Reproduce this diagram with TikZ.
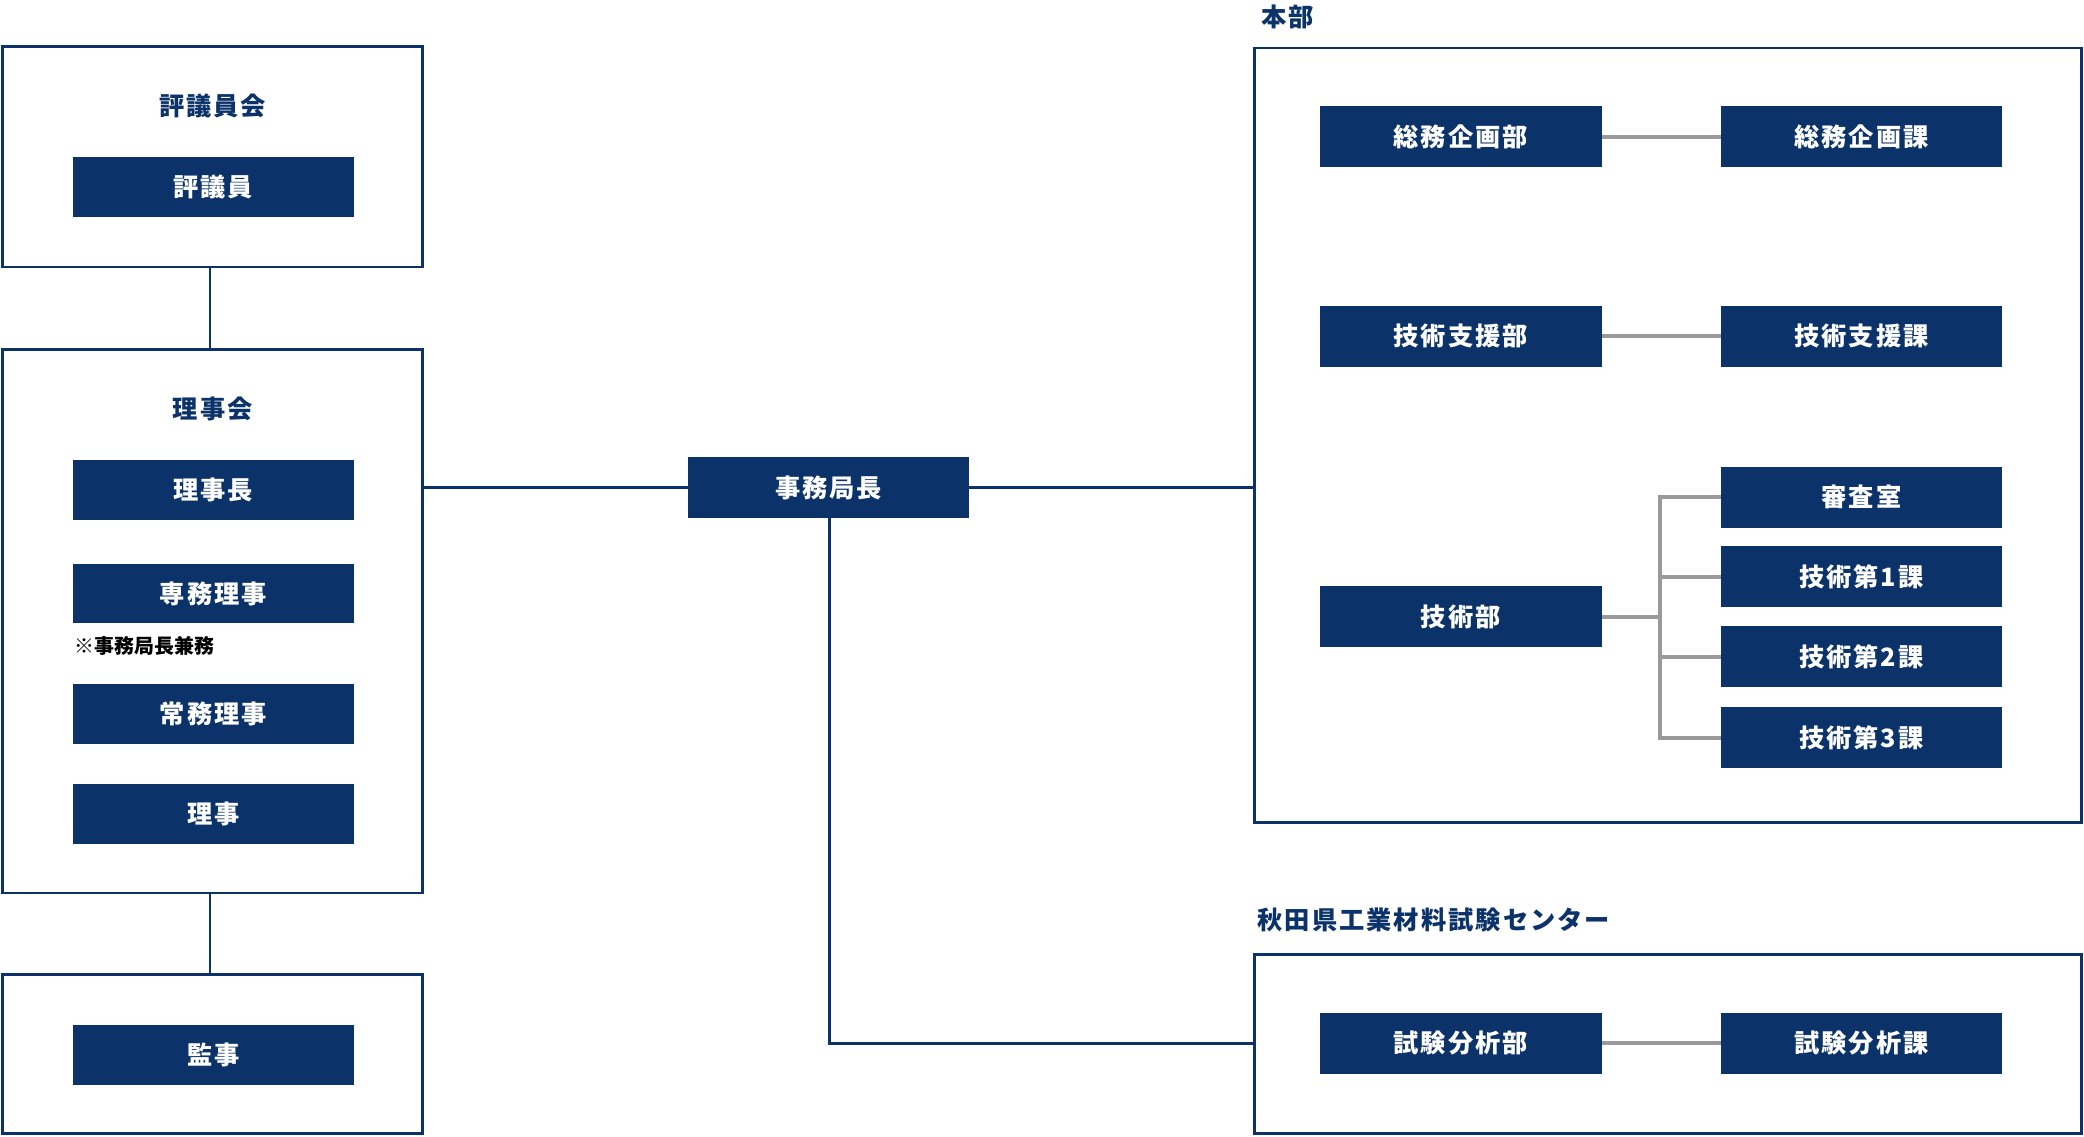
\documentclass[tikz,border=0pt]{standalone}
\usepackage{fontspec}
\setmainfont{Noto Sans CJK JP}[LetterSpace=8]
\begin{document}
\begin{tikzpicture}[x=1pt,y=-1pt,
  nv/.style={fill=navy,text=white,font=\bfseries\fontsize{19}{22}\selectfont,inner sep=0},
  frame/.style={draw=navy,line width=2pt},
  ln/.style={draw=navy,line width=2pt},
  gl/.style={draw=gray!80,line width=3pt},
  ttl/.style={text=navy,font=\bfseries\fontsize{19}{22}\selectfont,inner sep=0}]
\definecolor{navy}{HTML}{0B3269}
\useasboundingbox (0,0) rectangle (1568,855);
\newcommand\bx[3]{\path[nv] (#1) rectangle ++(211,-46) node[midway] (#2) {#3};}
% left
\draw[frame] (2,35) rectangle (318,201);
\node[ttl] (t1) at (160,80) {評議員会};
\path[nv] (55,118) rectangle (266,163) node[midway] (a1) {評議員};
\draw[frame] (2,263) rectangle (318,672);
\node[ttl] (t2) at (160,308) {理事会};
\path[nv] (55,346) rectangle (266,391) node[midway] (a2) {理事長};
\path[nv] (55,424) rectangle (266,469) node[midway] (a3) {専務理事};
\node[anchor=west,inner sep=0,font=\bfseries\fontsize{15}{18}\selectfont,text=black] (nt) at (56,486) {\addfontfeature{LetterSpace=0}※事務局長兼務};
\path[nv] (55,515) rectangle (266,560) node[midway] (a4) {常務理事};
\path[nv] (55,590) rectangle (266,635) node[midway] (a5) {理事};
\draw[frame] (2,733) rectangle (318,853);
\path[nv] (55,771) rectangle (266,816) node[midway] (a6) {監事};
\draw[ln] (158,201) -- (158,263);
\draw[ln] (158,672) -- (158,733);
% center
\path[nv] (518,344) rectangle (729,390) node[midway] (c) {事務局長};
\coordinate (b2r) at (318,367);
\coordinate (hr) at (944,367);
\coordinate (cr) at (944,785);
\draw[ln] (b2r) -- (518,367);
\draw[ln] (729,367) -- (hr);
\draw[ln] (624,390) |- (cr);
% honbu
\draw[frame] (944,36) rectangle (1566,619);
\node[ttl,anchor=west] (hb) at (949,13) {本部};
\path[nv] (993,80) rectangle (1205,126) node[midway] (h1) {総務企画部};
\path[nv] (1295,80) rectangle (1506,126) node[midway] (h2) {総務企画課};
\path[nv] (993,230) rectangle (1205,276) node[midway] (h3) {技術支援部};
\path[nv] (1295,230) rectangle (1506,276) node[midway] (h4) {技術支援課};
\path[nv] (993,441) rectangle (1205,487) node[midway] (h5) {技術部};
\path[nv] (1295,351) rectangle (1506,397) node[midway] (r1) {審査室};
\path[nv] (1295,411) rectangle (1506,457) node[midway] (r2) {技術第1課};
\path[nv] (1295,471) rectangle (1506,517) node[midway] (r3) {技術第2課};
\path[nv] (1295,532) rectangle (1506,578) node[midway] (r4) {技術第3課};
\draw[gl] (1205,103) -- (1295,103);
\draw[gl] (1205,253) -- (1295,253);
\draw[gl] (1205,464) -- (1249,464);
\draw[gl] (1295,374) -| (1249,555) -- (1295,555);
\draw[gl] (1249,434) -- (1295,434);
\draw[gl] (1249,494) -- (1295,494);
% center box
\draw[frame] (944,718) rectangle (1566,853);
\node[ttl,anchor=west] (ct) at (946,692) {秋田県工業材料試験センター};
\path[nv] (993,762) rectangle (1205,808) node[midway] (s1) {試験分析部};
\path[nv] (1295,762) rectangle (1506,808) node[midway] (s2) {試験分析課};
\draw[gl] (1205,785) -- (1295,785);
\end{tikzpicture}
\end{document}
